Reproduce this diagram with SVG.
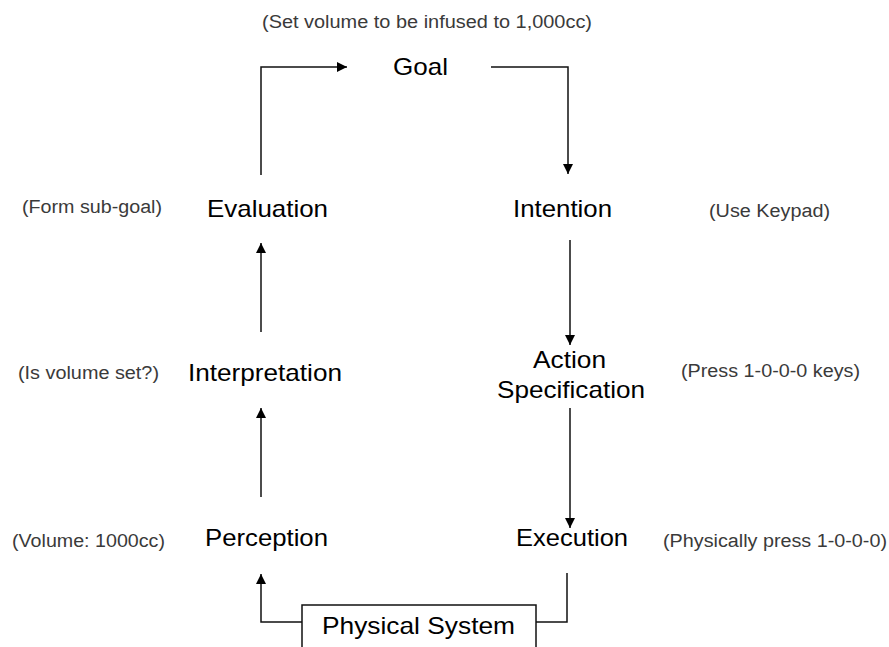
<svg xmlns="http://www.w3.org/2000/svg" width="889" height="647" viewBox="0 0 889 647">
  <style>
    .stage { font-family: "Liberation Sans", Arial, sans-serif; font-size: 24px; fill: #000; }
    .note { font-family: "Liberation Sans", Arial, sans-serif; font-size: 18px; fill: #3a3a3a; }
    .wire { fill: none; stroke: #111; stroke-width: 1.5; }
    .box { fill: #fff; stroke: #111; stroke-width: 1.5; }
  </style>
  <defs>
    <marker id="arrow" viewBox="0 0 10 10" refX="10" refY="5" markerWidth="10" markerHeight="10" markerUnits="userSpaceOnUse" orient="auto">
      <path d="M0,0 L10,5 L0,10 Z" fill="#000"/>
    </marker>
  </defs>
  <rect width="889" height="647" fill="#fff"/>

  <g id="connectors">
    <path class="wire" d="M261,175 V67 H347" marker-end="url(#arrow)"/>
    <path class="wire" d="M491,67 H568 V174" marker-end="url(#arrow)"/>
    <path class="wire" d="M570,240 V345" marker-end="url(#arrow)"/>
    <path class="wire" d="M570,408 V528" marker-end="url(#arrow)"/>
    <path class="wire" d="M567,573 V622 H536"/>
    <path class="wire" d="M302,622 H261 V574" marker-end="url(#arrow)"/>
    <path class="wire" d="M261,497 V408" marker-end="url(#arrow)"/>
    <path class="wire" d="M261,332 V243" marker-end="url(#arrow)"/>
  </g>

  <g id="goal">
    <text class="note" x="262" y="28" textLength="330" lengthAdjust="spacingAndGlyphs">(Set volume  to be infused to 1,000cc)</text>
    <text class="stage" x="393" y="75" textLength="55" lengthAdjust="spacingAndGlyphs">Goal</text>
  </g>

  <g id="evaluation">
    <text class="note" x="22" y="213" textLength="140" lengthAdjust="spacingAndGlyphs">(Form sub-goal)</text>
    <text class="stage" x="207" y="217" textLength="121" lengthAdjust="spacingAndGlyphs">Evaluation</text>
  </g>

  <g id="intention">
    <text class="stage" x="513" y="217" textLength="99" lengthAdjust="spacingAndGlyphs">Intention</text>
    <text class="note" x="709" y="217" textLength="121" lengthAdjust="spacingAndGlyphs">(Use Keypad)</text>
  </g>

  <g id="interpretation">
    <text class="note" x="18" y="379" textLength="141" lengthAdjust="spacingAndGlyphs">(Is volume  set?)</text>
    <text class="stage" x="188" y="381" textLength="154" lengthAdjust="spacingAndGlyphs">Interpretation</text>
  </g>

  <g id="action-specification">
    <text class="stage" x="533" y="368" textLength="73" lengthAdjust="spacingAndGlyphs">Action</text>
    <text class="stage" x="497" y="398" textLength="148" lengthAdjust="spacingAndGlyphs">Specification</text>
    <text class="note" x="681" y="377" textLength="179" lengthAdjust="spacingAndGlyphs">(Press 1-0-0-0 keys)</text>
  </g>

  <g id="perception">
    <text class="note" x="12" y="547" textLength="153" lengthAdjust="spacingAndGlyphs">(Volume:  1000cc)</text>
    <text class="stage" x="205" y="546" textLength="123" lengthAdjust="spacingAndGlyphs">Perception</text>
  </g>

  <g id="execution">
    <text class="stage" x="516" y="546" textLength="112" lengthAdjust="spacingAndGlyphs">Execution</text>
    <text class="note" x="663" y="547" textLength="224" lengthAdjust="spacingAndGlyphs">(Physically  press 1-0-0-0)</text>
  </g>

  <g id="physical-system">
    <rect class="box" x="302" y="605" width="234" height="60"/>
    <text class="stage" x="322" y="634" textLength="193" lengthAdjust="spacingAndGlyphs">Physical System</text>
  </g>
</svg>
